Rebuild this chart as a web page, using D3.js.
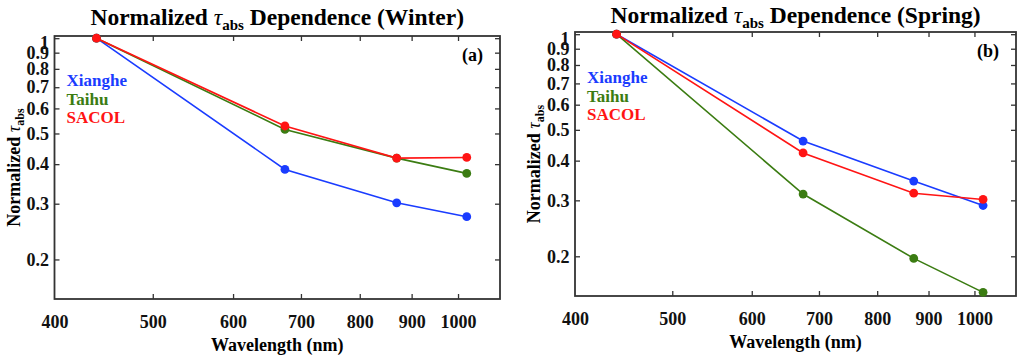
<!DOCTYPE html>
<html>
<head>
<meta charset="utf-8">
<script src="https://cdn.jsdelivr.net/npm/d3@7"></script>
<style>
  body { margin: 0; background: #fff; }
  svg text { font-family: "Liberation Serif", "Times New Roman", serif !important; }
  .tick text { font-weight: bold; font-size: 18px; fill: #111; }
  .tick line { stroke: #333; stroke-width: 1.3; }
  .domain { display: none; }
</style>
</head>
<body>
<div class="graphic"></div>
<script>
// data
var wavelengths = [440, 675, 870, 1020];
var seriesNames = ["Xianghe", "Taihu", "SACOL"];
var seriesColors = ["#1a3cff", "#3b7c12", "#ff1414"];

var winterXianghe = [1, 0.385, 0.302, 0.273];
var winterTaihu = [1, 0.515, 0.418, 0.374];
var winterSacol = [1, 0.528, 0.418, 0.420];

var springXianghe = [1, 0.461, 0.345, 0.289];
var springTaihu = [1, 0.314, 0.197, 0.154];
var springSacol = [1, 0.423, 0.316, 0.302];

var xTicks = [400, 500, 600, 700, 800, 900, 1000];
var yTicks = [0.2, 0.3, 0.4, 0.5, 0.6, 0.7, 0.8, 0.9, 1];

var svg = d3.select(".graphic").append("svg")
  .attr("width", 1024)
  .attr("height", 359);

function drawPanel(p) {
  var x = d3.scaleLog().domain([400, 1100]).range([p.left, p.right]);
  var y = d3.scaleLog().domain([0.15, 1.016]).range([p.bottom, p.top]);
  var g = svg.append("g");

  // axes, ticks pointing in
  g.append("g")
    .attr("transform", "translate(0," + p.bottom + ")")
    .call(d3.axisBottom(x).tickValues(xTicks).tickFormat(d3.format("d")).tickSize(-5).tickPadding(16.5))
    .selectAll(".tick").filter(function(d) { return d == 400 }).select("line").remove();
  g.append("g")
    .attr("transform", "translate(0," + p.top + ")")
    .call(d3.axisTop(x).tickValues(xTicks.slice(1)).tickSize(-5).tickFormat(""));
  g.append("g")
    .attr("transform", "translate(" + p.left + ",0)")
    .call(d3.axisLeft(y).tickValues(yTicks).tickFormat(d3.format("")).tickSize(-5).tickPadding(5.5))
    .selectAll(".tick text").attr("dy", function(d) { return d == 1 ? "0.55em" : "0.32em" });
  g.append("g")
    .attr("transform", "translate(" + p.right + ",0)")
    .call(d3.axisRight(y).tickValues(yTicks).tickSize(-5).tickFormat(""));

  g.append("rect")
    .attr("x", p.left).attr("y", p.top)
    .attr("width", p.right - p.left).attr("height", p.bottom - p.top)
    .attr("fill", "none").attr("stroke", "#333").attr("stroke-width", 1.8);

  var line = d3.line()
    .x(function(d, i) { return x(wavelengths[i]) })
    .y(function(d) { return y(d) });

  p.series.forEach(function(values, k) {
    var s = g.append("g");
    s.append("path")
      .attr("d", line(values))
      .attr("fill", "none")
      .attr("stroke", seriesColors[k])
      .attr("stroke-width", 1.6);
    s.selectAll("circle")
      .data(values)
      .enter()
      .append("circle")
      .attr("cx", function(d, i) { return x(wavelengths[i]) })
      .attr("cy", function(d) { return y(d) })
      .attr("r", 4.4)
      .attr("fill", seriesColors[k]);
  });

  // legend
  g.append("g").selectAll("text")
    .data(seriesNames)
    .enter()
    .append("text")
    .attr("x", p.legendX)
    .attr("y", function(d, i) { return p.legendY + i * 18.5 })
    .attr("fill", function(d, i) { return seriesColors[i] })
    .attr("font-weight", "bold")
    .attr("font-size", 17)
    .text(function(d) { return d });

  g.append("text")
    .attr("x", p.right - 17).attr("y", p.top + 25)
    .attr("text-anchor", "end")
    .attr("font-weight", "bold").attr("font-size", 18)
    .text(p.tag);

  // title
  var title = g.append("text")
    .attr("x", (p.left + p.right) / 2).attr("y", p.titleY)
    .attr("text-anchor", "middle")
    .attr("font-weight", "bold").attr("font-size", 23.5);
  title.append("tspan").text("Normalized ");
  title.append("tspan").attr("font-style", "italic").attr("font-weight", "normal").text("τ");
  title.append("tspan").attr("font-size", 15).attr("dy", 5).text("abs");
  title.append("tspan").attr("dy", -5).text(" Dependence (" + p.season + ")");

  g.append("text")
    .attr("x", (p.left + p.right) / 2).attr("y", p.bottom + 52)
    .attr("text-anchor", "middle")
    .attr("font-weight", "bold").attr("font-size", 18)
    .text("Wavelength (nm)");

  var yTitle = g.append("text")
    .attr("transform", "translate(" + p.yTitleX + "," + (p.top + p.bottom) / 2 + ") rotate(-90)")
    .attr("text-anchor", "middle")
    .attr("font-weight", "bold").attr("font-size", 18);
  yTitle.append("tspan").text("Normalized ");
  yTitle.append("tspan").attr("font-style", "italic").attr("font-weight", "normal").text("τ");
  yTitle.append("tspan").attr("font-size", 12).attr("dy", 4).text("abs");
}

drawPanel({
  left: 54.5, right: 500, top: 36, bottom: 299,
  series: [winterXianghe, winterTaihu, winterSacol],
  legendX: 66.5, legendY: 86, tag: "(a)", season: "Winter",
  titleY: 25, yTitleX: 20
});

drawPanel({
  left: 575, right: 1016, top: 32, bottom: 296,
  series: [springXianghe, springTaihu, springSacol],
  legendX: 587, legendY: 83, tag: "(b)", season: "Spring",
  titleY: 23, yTitleX: 540
});
</script>
</body>
</html>
